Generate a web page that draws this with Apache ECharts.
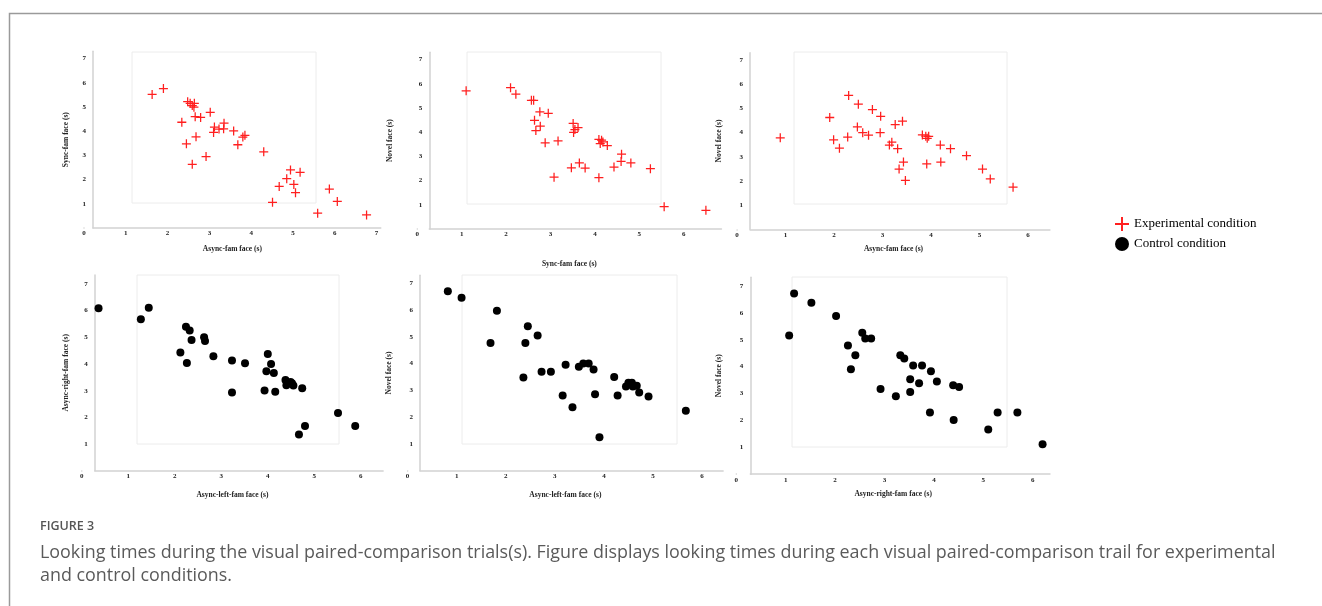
<!DOCTYPE html>
<html>
<head>
<meta charset="utf-8">
<title>Figure 3</title>
<script src="https://cdn.jsdelivr.net/npm/echarts@6/dist/echarts.min.js"></script>
<style>
    html, body { margin: 0; padding: 0; background: #fff; }
    #chart { width: 1322px; height: 606px; }
</style>
</head>
<body>
<div id="chart"></div>
<script>
// experimental condition (top row), [x, y] in seconds
var asyncFamSyncFam = [
    [1.63, 5.52], [1.90, 5.76], [2.48, 5.22], [2.54, 5.15], [2.59, 5.06], [2.63, 4.99], [2.64, 5.15],
    [2.34, 4.37], [2.66, 4.60], [2.79, 4.57], [3.02, 4.78], [2.45, 3.48], [2.68, 3.77], [2.59, 2.63],
    [2.92, 2.95], [3.12, 4.17], [3.10, 3.95], [3.23, 4.09], [3.34, 4.10], [3.35, 4.33], [3.58, 4.01],
    [3.68, 3.44], [3.80, 3.76], [3.85, 3.83], [4.30, 3.15], [4.51, 1.06], [4.67, 1.72], [4.85, 2.04],
    [4.94, 2.40], [5.02, 1.80], [5.06, 1.46], [5.17, 2.30], [5.59, 0.61], [5.87, 1.61], [6.06, 1.10],
    [6.76, 0.54]
];
var syncFamNovel = [
    [1.10, 5.71], [2.10, 5.84], [2.22, 5.57], [2.57, 5.32], [2.62, 5.32], [2.76, 4.84], [2.95, 4.78],
    [2.64, 4.49], [2.77, 4.25], [2.67, 4.07], [2.88, 3.56], [3.17, 3.64], [3.51, 4.36], [3.55, 4.11],
    [3.62, 4.19], [3.52, 3.99], [3.08, 2.14], [3.47, 2.53], [3.65, 2.73], [3.78, 2.52], [4.09, 3.70],
    [4.15, 3.67], [4.12, 3.53], [4.18, 3.60], [4.28, 3.45], [4.09, 2.12], [4.43, 2.56], [4.60, 3.09],
    [4.59, 2.79], [4.81, 2.73], [5.25, 2.49], [5.56, 0.92], [6.50, 0.77]
];
var asyncFamNovel = [
    [0.89, 3.78], [1.91, 4.62], [1.99, 3.70], [2.11, 3.35], [2.28, 3.81], [2.30, 5.53], [2.50, 5.17],
    [2.48, 4.23], [2.59, 3.99], [2.71, 3.89], [2.79, 4.95], [2.96, 4.67], [2.95, 3.99], [3.14, 3.48],
    [3.19, 3.60], [3.26, 4.33], [3.31, 3.33], [3.34, 2.49], [3.41, 4.47], [3.43, 2.78], [3.47, 2.02],
    [3.82, 3.90], [3.89, 3.85], [3.92, 3.76], [3.95, 3.84], [3.91, 2.70], [4.19, 3.48], [4.20, 2.78],
    [4.40, 3.33], [4.73, 3.04], [5.06, 2.49], [5.22, 2.08], [5.69, 1.74]
];
// control condition (bottom row)
var leftFamRightFam = [
    [0.36, 6.09], [1.44, 6.11], [1.27, 5.68], [2.24, 5.40], [2.32, 5.26], [2.36, 4.90], [2.12, 4.43],
    [2.26, 4.04], [2.63, 5.00], [2.65, 4.86], [2.83, 4.29], [3.23, 4.13], [3.51, 4.03], [3.23, 2.93],
    [4.00, 4.38], [4.07, 4.00], [3.97, 3.73], [4.13, 3.66], [3.93, 3.01], [4.16, 2.96], [4.38, 3.40],
    [4.40, 3.20], [4.49, 3.33], [4.52, 3.28], [4.55, 3.19], [4.74, 3.09], [5.51, 2.16], [4.80, 1.68],
    [4.67, 1.36], [5.88, 1.68]
];
var leftFamNovel = [
    [0.82, 6.70], [1.10, 6.46], [1.82, 5.98], [1.69, 4.77], [2.45, 5.40], [2.40, 4.77], [2.65, 5.05],
    [2.36, 3.48], [2.73, 3.70], [2.92, 3.70], [3.22, 3.96], [3.16, 2.81], [3.36, 2.37], [3.49, 3.89],
    [3.58, 4.01], [3.69, 4.01], [3.79, 3.78], [3.82, 2.86], [3.91, 1.25], [4.21, 3.50], [4.28, 2.81],
    [4.45, 3.15], [4.50, 3.29], [4.57, 3.29], [4.59, 3.15], [4.67, 3.18], [4.72, 2.92], [4.91, 2.77],
    [5.67, 2.24]
];
var rightFamNovel = [
    [1.17, 6.72], [1.52, 6.38], [2.02, 5.88], [1.07, 5.16], [2.55, 5.26], [2.61, 5.05], [2.73, 5.05],
    [2.26, 4.79], [2.41, 4.42], [2.32, 3.90], [2.92, 3.17], [3.32, 4.42], [3.40, 4.30], [3.58, 4.04],
    [3.76, 4.04], [3.94, 3.83], [3.52, 3.53], [3.70, 3.38], [4.06, 3.45], [3.23, 2.90], [3.52, 3.06],
    [4.39, 3.31], [4.51, 3.24], [3.92, 2.29], [4.40, 2.02], [5.10, 1.66], [5.29, 2.29], [5.69, 2.29],
    [6.20, 1.11]
];

var conditions = ['Experimental condition', 'Control condition'];
var xTitles = ['Async-fam face (s)', 'Sync-fam face (s)', 'Async-fam face (s)',
    'Async-left-fam face (s)', 'Async-left-fam face (s)', 'Async-right-fam face (s)'];
var yTitles = ['Sync-fam face (s)', 'Novel face (s)', 'Novel face (s)',
    'Async-right-fam face (s)', 'Novel face (s)', 'Novel face (s)'];
var panelData = [asyncFamSyncFam, syncFamNovel, asyncFamNovel, leftFamRightFam, leftFamNovel, rightFamNovel];

// layout of each panel in pixels (x0/y0 = where value 0 sits)
var panels = [
    {x0: 84, xu: 41.8, xMax: 7.1, y0: 228, yu: 24.2, yMax: 7.3, shift: 9, xGap: 17, yGap: 23, box: [132, 52, 316, 203]},
    {x0: 417.3, xu: 44.4, xMax: 6.85, y0: 229, yu: 24.2, yMax: 7.3, shift: 12, xGap: 31, yGap: 35, box: [467, 52, 661, 204]},
    {x0: 737.1, xu: 48.5, xMax: 6.45, y0: 229.3, yu: 24.2, yMax: 7.3, shift: 13, xGap: 16, yGap: 27, box: [794, 52, 1007, 204]},
    {x0: 81.8, xu: 46.5, xMax: 6.48, y0: 470.7, yu: 26.67, yMax: 7.34, shift: 13, xGap: 20, yGap: 25, box: [137, 275, 339, 444]},
    {x0: 407.6, xu: 49.07, xMax: 6.43, y0: 470.8, yu: 26.78, yMax: 7.3, shift: 12.4, xGap: 20, yGap: 27, box: [462, 275, 677, 444]},
    {x0: 736.3, xu: 49.4, xMax: 6.35, y0: 474.2, yu: 26.89, yMax: 7.32, shift: 14, xGap: 16, yGap: 27, box: [792, 277, 1007, 447]}
];

var plusPath = 'path://M43,0H57V43H100V57H57V100H43V57H0V43H43Z';
var tickFont = {fontFamily: 'Liberation Serif', fontWeight: 'bold', fontSize: 7, color: '#222'};
var nameFont = {fontFamily: 'Liberation Serif', fontWeight: 'bold', fontSize: 7.5, color: '#222'};
var axisColor = '#d2d2d2';

var grids = [], xAxes = [], yAxes = [], series = [], graphics = [];

panels.forEach(function (p, i) {
    var control = i >= 3;
    grids.push({
        left: p.x0, top: p.y0 - p.yMax * p.yu,
        width: p.xMax * p.xu, height: p.yMax * p.yu
    });
    xAxes.push({
        gridIndex: i, type: 'value', min: 0, max: p.xMax, interval: 1,
        axisLine: {lineStyle: {color: axisColor, width: 1.5, type: [0, p.shift, 2000, 0]}},
        axisTick: {show: false}, splitLine: {show: false},
        axisLabel: Object.assign({margin: 2, showMaxLabel: false}, tickFont),
        name: xTitles[i], nameLocation: 'middle', nameGap: p.xGap, nameTextStyle: nameFont
    });
    yAxes.push({
        gridIndex: i, type: 'value', min: 0, max: p.yMax, interval: 1, offset: -p.shift,
        axisLine: {show: true, lineStyle: {color: axisColor, width: 1.5}},
        axisTick: {show: false}, splitLine: {show: false},
        axisLabel: Object.assign({margin: 7, showMaxLabel: false, showMinLabel: false}, tickFont),
        name: yTitles[i], nameLocation: 'middle', nameGap: p.yGap, nameTextStyle: nameFont
    });
    series.push({
        name: control ? conditions[1] : conditions[0],
        type: 'scatter', xAxisIndex: i, yAxisIndex: i,
        symbol: control ? 'circle' : plusPath,
        symbolSize: control ? 8 : 9,
        itemStyle: {color: control ? '#000' : '#ff1f1f', opacity: 1},
        silent: true,
        data: panelData[i]
    });
    graphics.push({
        type: 'rect', silent: true,
        shape: {x: p.box[0], y: p.box[1], width: p.box[2] - p.box[0], height: p.box[3] - p.box[1]},
        style: {fill: 'none', stroke: '#ececec', lineWidth: 1}
    });
});

// figure frame
graphics.push({
    type: 'polyline', silent: true,
    shape: {points: [[9.5, 606], [9.5, 13.5], [1322, 13.5]]},
    style: {fill: 'none', stroke: '#9a9a9a', lineWidth: 1.5}
});

var chart = echarts.init(document.getElementById('chart'));
chart.setOption({
    animation: false,
    backgroundColor: '#fff',
    title: [
        {text: 'FIGURE 3', left: 40, top: 520, padding: 0,
            textStyle: {fontFamily: 'Open Sans', fontSize: 12.5, fontWeight: 600, color: '#555'}},
        {text: 'Looking times during the visual paired-comparison trials(s). Figure displays looking times during each visual paired-comparison trail for experimental\nand control conditions.',
            left: 40, top: 541, padding: 0,
            textStyle: {fontFamily: 'Open Sans', fontSize: 17.9, fontWeight: 'normal', color: '#5a5a5a', lineHeight: 23}}
    ],
    legend: {
        data: conditions, orient: 'vertical', left: 1110, top: 212,
        itemWidth: 14, itemHeight: 14, itemGap: 6,
        textStyle: {fontFamily: 'Liberation Serif', fontSize: 13, color: '#000'},
        selectedMode: false
    },
    grid: grids,
    xAxis: xAxes,
    yAxis: yAxes,
    series: series,
    graphic: graphics
});
</script>
</body>
</html>
